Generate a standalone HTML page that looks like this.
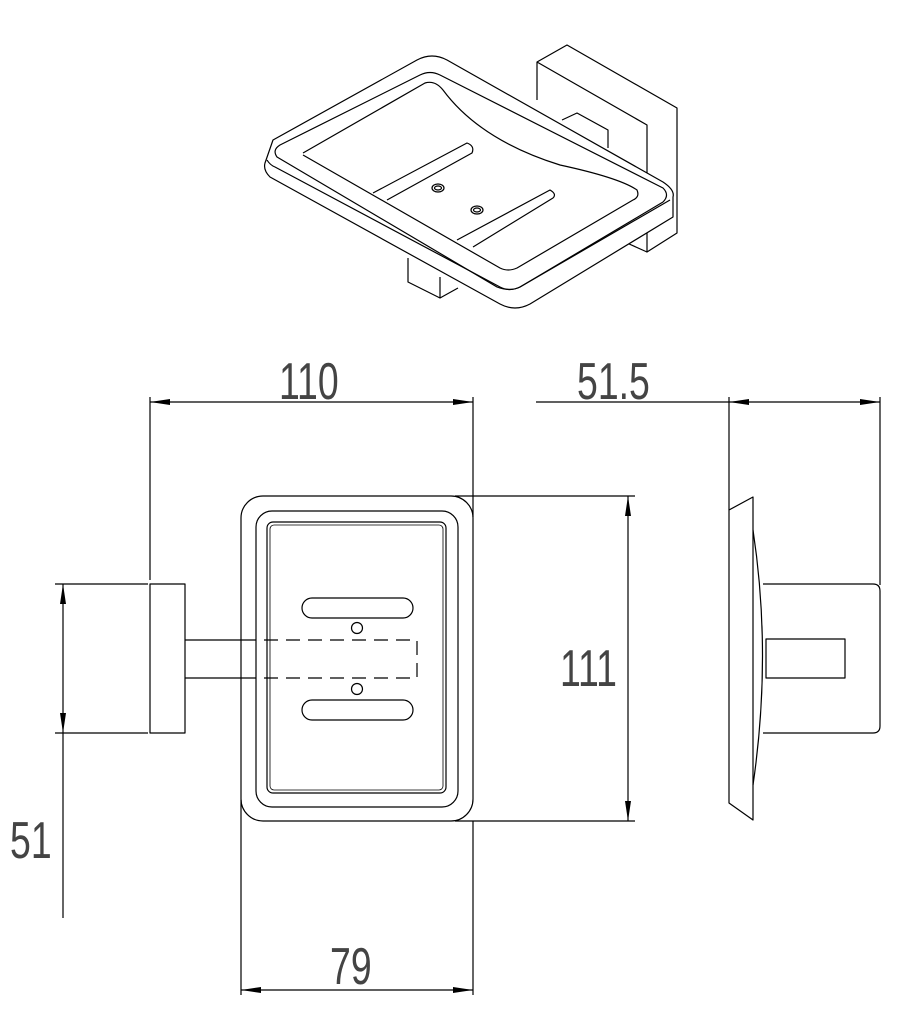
<!DOCTYPE html>
<html><head><meta charset="utf-8"><style>
html,body{margin:0;padding:0;background:#fff;}
svg{display:block}
text{font-family:"Liberation Sans",sans-serif;fill:#444;}
</style></head><body>
<svg width="924" height="1011" viewBox="0 0 924 1011" xmlns="http://www.w3.org/2000/svg">
<defs>
<marker id="a" viewBox="0 0 20 6" refX="20" refY="3" markerWidth="20" markerHeight="6" markerUnits="userSpaceOnUse" orient="auto-start-reverse"><path d="M20,3 L0,0 L0,6 Z" fill="#000"/></marker>
</defs>
<g fill="none" stroke="#000" stroke-width="1.2" stroke-linejoin="round">
<!-- isometric view -->
<path d="M537,100 L537,62 L567,45 L677,108 L677,233 L647,252 L647,125 L537,62"/>
<path d="M562,120 L577,113 L608,130 L608,148"/>
<path d="M627,243 L647,252"/>
<path d="M408,258 L408,282 L440,298 L440,277 M440,298 L458,288"/>
<path d="M273,140 L417,60 Q432,52 447,60 L663,182 Q675,190 673,197 L673,217 L530,304 Q515,312 500,304 L270,177 Q263,170 265,163 Z" fill="#fff"/>
<path d="M267,160 Q270,165 275,167 L500,287 Q510,292 520,287 L670,200"/>
<path d="M280,145 L420,75 Q430,70 440,75 L663,188 Q670,195 663,202 L520,287 Q510,292 497,287 L277,157 Q272,150 280,145 Z"/>
<path d="M303,153 L425,83 Q435,80 443,90 Q480,140 560,165 Q620,178 637,190 Q640,197 633,200 L517,268 Q508,272 500,268 L303,155"/>
<path d="M373,193 L467,143 Q475,146 472,153 L387,200 M457,240 L550,190 Q557,194 553,198 L473,247"/>
<ellipse cx="438" cy="188" rx="6" ry="4"/><ellipse cx="438" cy="188" rx="3.5" ry="2"/>
<ellipse cx="477" cy="210" rx="6" ry="4"/><ellipse cx="477" cy="210" rx="3.5" ry="2"/>

<!-- front view -->
<rect x="241" y="496" width="232" height="325" rx="22"/>
<rect x="256" y="511" width="202" height="296" rx="16"/>
<rect x="267" y="522" width="179" height="271" rx="6"/>
<rect x="270" y="525" width="173" height="265" rx="4" stroke-width="0.8"/>
<rect x="302" y="598" width="111" height="20" rx="10"/>
<rect x="302" y="700" width="111" height="20" rx="10"/>
<circle cx="357" cy="628" r="5.5"/><circle cx="357" cy="689" r="5.5"/>
<rect x="150" y="584" width="35" height="149"/>
<path d="M185,640 L256,640 M185,678 L256,678"/>
<path d="M264,640 L417,640 L417,678 L264,678" stroke-dasharray="14,8"/>

<!-- side view -->
<path d="M729,510 L753,497 L753,820 L729,803 Z"/>
<path d="M753,530 Q772,655 753,785"/>
<path d="M763,584 L873,584 Q880,584 880,591 L880,726 Q880,733 873,733 L763,733"/>
<rect x="766" y="639" width="79" height="39"/>

<!-- dimensions -->
<path d="M150,397 L150,580 M473,397 L473,517"/>
<path d="M150,402 L473,402" marker-start="url(#a)" marker-end="url(#a)"/>
<path d="M455,496 L635,496 M455,821 L635,821"/>
<path d="M628,496 L628,821" marker-start="url(#a)" marker-end="url(#a)"/>
<path d="M55,584 L148,584 M55,733 L148,733"/>
<path d="M63,584 L63,733" marker-start="url(#a)" marker-end="url(#a)"/>
<path d="M63,733 L63,918"/>
<path d="M241,800 L241,995 M473,821 L473,995"/>
<path d="M241,990 L473,990" marker-start="url(#a)" marker-end="url(#a)"/>
<path d="M729,397 L729,510 M880,397 L880,585"/>
<path d="M536,402 L729,402"/>
<path d="M729,402 L880,402" marker-start="url(#a)" marker-end="url(#a)"/>
</g>
<g font-size="52">
<text transform="translate(279,399) scale(0.72,1)">110</text>
<text transform="translate(577,399) scale(0.72,1)">51.5</text>
<text transform="translate(560,686) scale(0.72,1)">111</text>
<text transform="translate(10,858) scale(0.72,1)">51</text>
<text transform="translate(330,984) scale(0.72,1)">79</text>
</g>
</svg>
</body></html>
